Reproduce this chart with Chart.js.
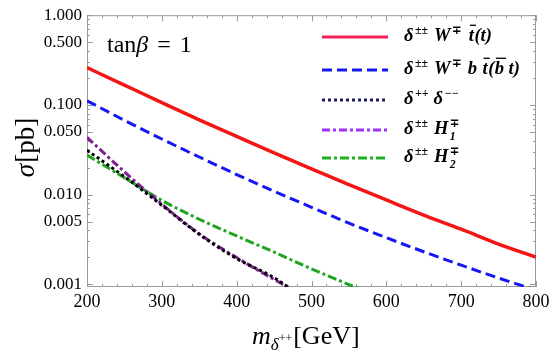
<!DOCTYPE html>
<html>
<head>
<meta charset="utf-8">
<script src="https://cdn.jsdelivr.net/npm/chart.js@4"></script>
<style>
html, body { margin: 0; padding: 0; background: #fff; }
#wrap { width: 554px; height: 354px; position: relative; }
</style>
</head>
<body>
<div id="wrap"><canvas id="c"></canvas></div>
<script>
// ===============================
// data (sigma in pb vs m_delta++ in GeV)
// ===============================
const mass = [200, 250, 300, 350, 400, 450, 500, 550, 600, 650, 700, 750, 800];
const sigWt = [0.26, 0.166, 0.106, 0.068, 0.0444, 0.0291, 0.0193, 0.0129, 0.0087, 0.0059, 0.0041, 0.0028, 0.0020];
const sigWbt = [0.111, 0.0672, 0.0416, 0.0262, 0.0167, 0.0109, 0.0072, 0.0048, 0.0033, 0.0023, 0.00163, 0.00117, 0.00086];

const massLow = [200, 250, 300, 350, 400, 450, 500];
const sigDD = [0.0312, 0.0158, 0.0076, 0.0036, 0.00193, 0.00118, 0.0006];
const sigH1 = [0.0434, 0.0179, 0.0078, 0.00364, 0.00198, 0.00113, 0.00067];

const massH2 = [200, 250, 300, 350, 400, 450, 500, 550, 600];
const sigH2 = [0.0275, 0.0154, 0.0086, 0.0053, 0.00345, 0.00228, 0.00148, 0.00099, 0.00066];

const yLabelTicks = [0.001, 0.005, 0.01, 0.05, 0.1, 0.5, 1];
const xLabelTicks = [200, 300, 400, 500, 600, 700, 800];

const FONT = '"Liberation Serif", "DejaVu Serif", serif';

function pts(xs, ys) {
    return xs.map((m, i) => ({ x: m, y: ys[i] }));
}

// legend rows: plot colour, legend colour, dash, rich text
const series = [
    { data: pts(mass, sigWt), color: "#f41616", legend: "#f5205a", dash: [], width: 3.5,
      text: [{ t: "δ" }, { sup: "±±" }, { gap: 5 }, { t: "W" }, { sup: "∓" }, { gap: 6 }, { t: "t", bar: 1 }, { t: "(t)" }] },
    { data: pts(mass, sigWbt), color: "#1616f4", legend: "#1616f4", dash: [10, 5], width: 3,
      text: [{ t: "δ" }, { sup: "±±" }, { gap: 5 }, { t: "W" }, { sup: "∓" }, { gap: 5 }, { t: "b" }, { gap: 5 }, { t: "t", bar: 1 }, { t: "(" }, { t: "b", bar: 1 }, { gap: 4 }, { t: "t)" }] },
    { data: pts(massLow, sigDD), color: "#000000", legend: "#1a1a66", dash: [3, 3], width: 3,
      text: [{ t: "δ" }, { sup: "++" }, { gap: 4 }, { t: "δ" }, { sup: "−−" }] },
    { data: pts(massLow, sigH1), color: "#7d1f8f", legend: "#9b30ff", dash: [8, 3, 3, 3], width: 3,
      text: [{ t: "δ" }, { sup: "±±" }, { gap: 5 }, { t: "H" }, { sup: "∓", sub: "1" }] },
    { data: pts(massH2, sigH2), color: "#1fa51f", legend: "#1fb01f", dash: [9, 3, 3, 3], width: 3,
      text: [{ t: "δ" }, { sup: "±±" }, { gap: 5 }, { t: "H" }, { sup: "∓", sub: "2" }] }
];

// ===============================
// helpers
// ===============================
function rich(ctx, x, y, parts, size) {
    for (const p of parts) {
        if (p.gap) { x += p.gap; continue; }
        if (p.sup || p.sub) {
            ctx.font = "bold italic " + (size * 0.64) + "px " + FONT;
            let w = 0;
            if (p.sup) { ctx.fillText(p.sup, x + 1, y - size * 0.38); w = ctx.measureText(p.sup).width; }
            if (p.sub) { ctx.fillText(p.sub, x + 1, y + size * 0.32); w = Math.max(w, ctx.measureText(p.sub).width); }
            x += w + 2;
            continue;
        }
        ctx.font = "bold italic " + size + "px " + FONT;
        ctx.fillText(p.t, x, y);
        const w = ctx.measureText(p.t).width;
        if (p.bar) {
            ctx.save();
            ctx.lineWidth = 1.3;
            ctx.setLineDash([]);
            ctx.beginPath();
            ctx.moveTo(x + 1, y - size * 0.85);
            ctx.lineTo(x + w + 2, y - size * 0.85);
            ctx.stroke();
            ctx.restore();
        }
        x += w + 0.5;
    }
    return x;
}

function seg(ctx, x1, y1, x2, y2) {
    ctx.beginPath();
    ctx.moveTo(x1, y1);
    ctx.lineTo(x2, y2);
    ctx.stroke();
}

// frame with inward ticks on all four sides
const framePlugin = {
    id: "frame",
    beforeDatasetsDraw(chart) {
        const { ctx, chartArea: a, scales } = chart;
        const x = scales.x, y = scales.y;
        ctx.save();
        ctx.strokeStyle = "#9a9a9a";
        ctx.lineWidth = 1;
        ctx.strokeRect(a.left + 0.5, a.top + 0.5, a.right - a.left - 1, a.bottom - a.top - 1);
        x.ticks.forEach(t => {
            const px = Math.round(x.getPixelForValue(t.value)) + 0.5;
            const len = xLabelTicks.includes(t.value) ? 6 : 3;
            seg(ctx, px, a.bottom, px, a.bottom - len);
            seg(ctx, px, a.top, px, a.top + len);
        });
        y.ticks.forEach(t => {
            const py = Math.round(y.getPixelForValue(t.value)) + 0.5;
            if (py < a.top || py > a.bottom) return;
            const major = yLabelTicks.some(v => Math.abs(v - t.value) < 1e-9);
            const len = major ? 6 : 3;
            seg(ctx, a.left, py, a.left + len, py);
            seg(ctx, a.right, py, a.right - len, py);
        });
        ctx.restore();
    },
    afterDraw(chart) {
        const ctx = chart.ctx;
        ctx.save();
        ctx.fillStyle = "#000";
        ctx.strokeStyle = "#000";
        ctx.textBaseline = "alphabetic";

        // tan beta annotation
        ctx.font = "24px " + FONT;
        ctx.fillText("tan", 107, 52);
        let tx = 107 + ctx.measureText("tan").width;
        ctx.font = "italic 24px " + FONT;
        ctx.fillText("β", tx, 52);
        tx += ctx.measureText("β").width + 9;
        ctx.font = "24px " + FONT;
        ctx.fillText("=", tx, 52);
        tx += ctx.measureText("=").width + 9;
        ctx.fillText("1", tx, 52);

        // legend
        const rows = [37, 70, 100, 130, 158];
        series.forEach((s, i) => {
            ctx.save();
            ctx.strokeStyle = s.legend;
            ctx.lineWidth = 3;
            ctx.setLineDash(s.dash);
            seg(ctx, 322, rows[i], 388, rows[i]);
            ctx.restore();
            rich(ctx, 404, rows[i] + 4, s.text, 18.5);
        });

        // x axis title
        ctx.font = "italic 26px " + FONT;
        let ax = 252;
        ctx.fillText("m", ax, 344);
        ax += ctx.measureText("m").width;
        ctx.font = "italic 17px " + FONT;
        ctx.fillText("δ", ax, 350);
        ax += ctx.measureText("δ").width;
        ctx.font = "12px " + FONT;
        ctx.fillText("++", ax, 342);
        ax += ctx.measureText("++").width + 1;
        ctx.font = "26px " + FONT;
        ctx.fillText("[GeV]", ax, 344);

        // y axis title
        ctx.translate(34, 148);
        ctx.rotate(-Math.PI / 2);
        ctx.font = "italic 27px " + FONT;
        const w1 = ctx.measureText("σ").width;
        ctx.font = "27px " + FONT;
        const w2 = ctx.measureText("[pb]").width;
        let sx = -(w1 + w2) / 2;
        ctx.font = "italic 27px " + FONT;
        ctx.fillText("σ", sx, 0);
        ctx.font = "27px " + FONT;
        ctx.fillText("[pb]", sx + w1 + 1, 0);
        ctx.restore();
    }
};

// ===============================
// chart
// ===============================
new Chart(document.getElementById("c"), {
    type: "line",
    data: {
        datasets: series.map(s => ({
            data: s.data,
            borderColor: s.color,
            borderWidth: s.width,
            borderDash: s.dash,
            pointRadius: 0,
            fill: false,
            cubicInterpolationMode: "monotone",
            clip: 0
        }))
    },
    options: {
        responsive: true,
        maintainAspectRatio: false,
        animation: false,
        devicePixelRatio: 1,
        layout: { padding: { top: 11, right: 18, left: 0, bottom: 0 } },
        plugins: { legend: { display: false }, tooltip: { enabled: false } },
        scales: {
            x: {
                type: "linear",
                min: 200,
                max: 800,
                grid: { display: false, drawTicks: false },
                border: { display: false },
                ticks: {
                    stepSize: 20,
                    autoSkip: false,
                    maxRotation: 0,
                    padding: 4,
                    color: "#000",
                    font: { family: FONT, size: 18 },
                    callback: v => xLabelTicks.includes(v) ? String(v) : ""
                },
                afterFit: s => { s.height = 67; }
            },
            y: {
                type: "logarithmic",
                min: 0.00093,
                max: 1,
                grid: { display: false, drawTicks: false },
                border: { display: false },
                afterBuildTicks: s => {
                    const t = [];
                    for (let e = -3; e <= 0; e++) {
                        for (let k = 1; k <= 9; k++) {
                            const v = +(k * Math.pow(10, e)).toPrecision(3);
                            if (v >= 0.00093 && v <= 1) t.push({ value: v });
                        }
                    }
                    s.ticks = t;
                },
                ticks: {
                    autoSkip: false,
                    padding: 5,
                    color: "#000",
                    font: { family: FONT, size: 17 },
                    callback: v => yLabelTicks.some(l => Math.abs(l - v) < 1e-9) ? v.toFixed(3) : ""
                },
                afterFit: s => { s.width = 87; }
            }
        }
    },
    plugins: [framePlugin]
});
</script>
</body>
</html>
